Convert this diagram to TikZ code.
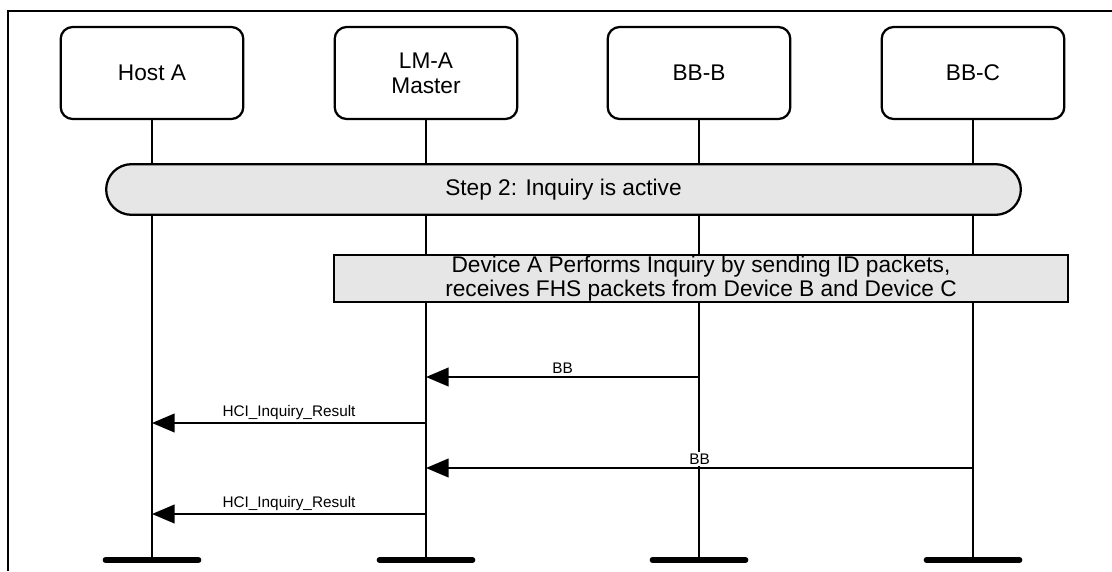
\documentclass[tikz,border=0pt]{standalone}
\usepackage{fontspec}
\setmainfont{Liberation Sans}
\usepackage{tikz}
\usetikzlibrary{arrows.meta}
\definecolor{BarGrey}{RGB}{230,230,230}

\begin{document}
\begin{tikzpicture}[x=0.75pt, y=-0.75pt,
          actor/.style={rectangle, rounded corners=9pt, draw, line width=1.7pt,
                        minimum width=137pt, minimum height=69pt, align=center,
                        font=\fontsize{17}{19}\selectfont},
          life/.style={line width=1.6pt},
          foot/.style={line width=4pt, line cap=round},
          msg/.style={-{Triangle[length=17pt, width=14pt]}, line width=1.6pt},
          lbl/.style={above=1pt, fill=white, inner sep=1pt,
                      font=\fontsize{11.5}{13}\selectfont}
        ]
        \useasboundingbox (0,0) rectangle (1112,571);
        \draw[line width=1.7pt] (8,571) -- (8,11) -- (1112,11);

        \node[actor] (host) at (152, 73) {Host A};
        \node[actor] (lma)  at (426, 73) {LM-A\\Master};
        \node[actor] (bbb)  at (699, 73) {BB-B};
        \node[actor] (bbc)  at (973, 73) {BB-C};

        \coordinate (host-end) at (152, 560);
        \coordinate (lma-end)  at (426, 560);
        \coordinate (bbb-end)  at (699, 560);
        \coordinate (bbc-end)  at (973, 560);

        \foreach \a in {host, lma, bbb, bbc} {
          \draw[life] (\a) -- (\a-end);
          \draw[foot] ([xshift=-35pt]\a-end) -- ([xshift=35pt]\a-end);
        }

        \node[rectangle, rounded corners=19pt, draw, line width=1.7pt, fill=BarGrey,
              minimum width=686pt, minimum height=38pt,
              font=\fontsize{17}{19}\selectfont]
              (step) at (563.5, 189.5) {Step 2: Inquiry is active};

        \node[rectangle, draw, line width=1.7pt, fill=BarGrey,
              minimum width=550pt, minimum height=35pt, align=center,
              inner sep=0pt, font=\fontsize{17}{17.5}\selectfont]
              (inq) at (701, 278.5)
              {Device A Performs Inquiry by sending ID packets,\\
               receives FHS packets from Device B and Device C};

        % messages
        \coordinate (m1) at (0, 377);
        \coordinate (m2) at (0, 423);
        \coordinate (m3) at (0, 468);
        \coordinate (m4) at (0, 514);

        \draw[msg] (bbb |- m1) -- node[lbl] {BB} (lma |- m1);
        \draw[msg] (lma |- m2) -- node[lbl] {HCI\_Inquiry\_Result} (host |- m2);
        \draw[msg] (bbc |- m3) -- node[lbl] {BB} (lma |- m3);
        \draw[msg] (lma |- m4) -- node[lbl] {HCI\_Inquiry\_Result} (host |- m4);
      \end{tikzpicture}
\end{document}
